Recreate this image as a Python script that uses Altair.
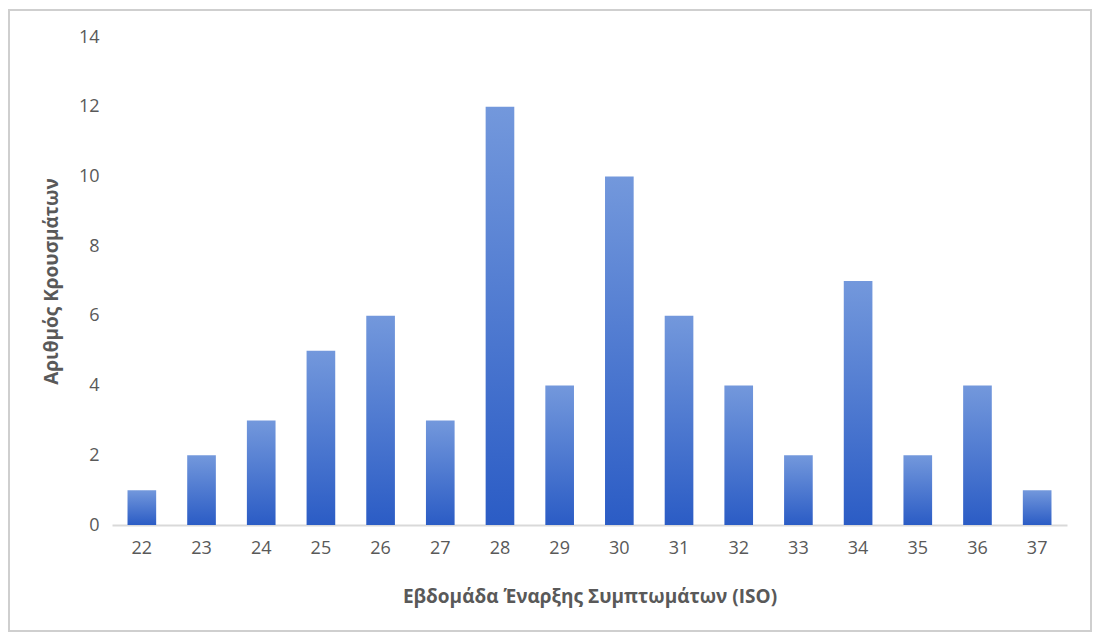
import altair as alt
import pandas as pd

weeks = ["22", "23", "24", "25", "26", "27", "28", "29", "30", "31", "32", "33", "34", "35", "36", "37"]
cases = [1, 2, 3, 5, 6, 3, 12, 4, 10, 6, 4, 2, 7, 2, 4, 1]

x_title = "Εβδομάδα Έναρξης Συμπτωμάτων (ISO)"
y_title = "Αριθμός Κρουσμάτων"

df = pd.DataFrame({"week": weeks, "cases": cases})

FONT = "Open Sans"
GREY = "#595959"

bars = alt.Chart(df).mark_bar(
    color=alt.Gradient(
        gradient="linear",
        stops=[alt.GradientStop(color="#7398dc", offset=0),
               alt.GradientStop(color="#2b5cc5", offset=1)],
        x1=0, x2=0, y1=0, y2=1,
    )
).encode(
    x=alt.X("week:N", sort=weeks, title=x_title,
            scale=alt.Scale(paddingInner=0.52, paddingOuter=0.26),
            axis=alt.Axis(labelAngle=0, ticks=False, domainColor="#d9d9d9", domainWidth=2,
                          labelPadding=14, titlePadding=30)),
    y=alt.Y("cases:Q", title=y_title,
            scale=alt.Scale(domain=[0, 14], nice=False),
            axis=alt.Axis(values=list(range(0, 15, 2)), grid=False, domain=False, ticks=False,
                          labelPadding=13, titlePadding=17)),
)

frame = alt.Chart(alt.Data(values=[{"a": 1}])).mark_rect(
    fill="transparent", stroke="#cfcfcf", strokeWidth=2
).encode(
    x=alt.value(-103), x2=alt.value(979), y=alt.value(-27), y2=alt.value(594)
)

chart = alt.layer(frame, bars).properties(
    width=955, height=488,
    autosize=alt.AutoSizeParams(type="none"),
    padding={"left": 104, "top": 29, "right": 25, "bottom": 110},
).configure_view(stroke=None).configure_axis(
    labelFont=FONT, titleFont=FONT, labelFontSize=18, titleFontSize=19,
    labelColor=GREY, titleColor=GREY, titleFontWeight="bold",
)

chart.save("out.html", embed_options={"renderer": "svg", "actions": False})
